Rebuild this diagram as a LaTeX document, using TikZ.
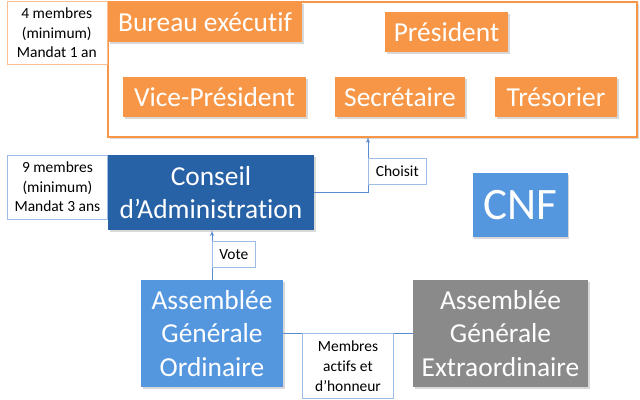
\documentclass[tikz,border=0pt]{standalone}
\usepackage{fontspec}
\setmainfont{Carlito}[Ligatures={NoCommon}]
\usetikzlibrary{arrows, positioning, shadows, calc}

\definecolor{orangebox}{HTML}{F79646}
\definecolor{orangeline}{HTML}{F9BF93}
\definecolor{darkblue}{HTML}{2862A6}
\definecolor{midblue}{HTML}{5597DF}
\definecolor{greybox}{HTML}{8A8A8A}
\definecolor{linkblue}{HTML}{5B8BD0}
\definecolor{tagblue}{HTML}{9DBCE6}

\begin{document}
\begin{tikzpicture}[
    x=0.025cm, y=-0.025cm,
    box/.style={rectangle, text=white, align=center, inner sep=0pt,
        font=\fontsize{19.5}{24}\selectfont,
        drop shadow={shadow xshift=1.2pt, shadow yshift=-1.2pt, opacity=0.3}},
    note/.style={rectangle, draw, fill=white, align=center, inner sep=0pt,
        font=\fontsize{11}{14}\selectfont},
    tag/.style={note, draw=tagblue},
    line/.style={draw=linkblue, thin},
    arrow/.style={line, -latex'}
]
\useasboundingbox (0,0) rectangle (640,400);

% bureau executif
\node [rectangle, draw=orangebox, line width=1.3pt, fill=white, minimum width=529*0.025cm, minimum height=135*0.025cm,
    drop shadow={shadow xshift=1.2pt, shadow yshift=-1.2pt, opacity=0.3}] (frame) at (372.5,69.5) {};
\node [box, fill=orangebox, minimum width=194*0.025cm, minimum height=40*0.025cm] (bureau) at (205,22) {Bureau exécutif};
\node [note, draw=orangeline, anchor=north east, minimum width=100*0.025cm, minimum height=63*0.025cm] (notebur) at (frame.north west) {4 membres\\(minimum)\\Mandat 1 an};
\node [box, fill=orangebox, minimum width=123*0.025cm, minimum height=40*0.025cm] (pres) at (446.5,32) {Président};
\node [box, fill=orangebox, minimum width=183*0.025cm, minimum height=40*0.025cm] (vice) at (214.5,97) {Vice-Président};
\node [box, fill=orangebox, minimum width=130*0.025cm, minimum height=40*0.025cm] (secr) at (400,97) {Secrétaire};
\node [box, fill=orangebox, minimum width=122*0.025cm, minimum height=40*0.025cm] (treso) at (556,97) {Trésorier};

% conseil
\node [box, fill=darkblue, minimum width=206*0.025cm, minimum height=75*0.025cm] (conseil) at (211,192.5) {Conseil\\d’Administration};
\node [tag, anchor=north east, minimum width=100*0.025cm, minimum height=64*0.025cm] (noteca) at (conseil.north west) {9 membres\\(minimum)\\Mandat 3 ans};
\node [box, fill=midblue, minimum width=95*0.025cm, minimum height=64*0.025cm, font=\fontsize{32}{36}\selectfont] (cnf) at (520,205) {CNF};

% assemblees
\node [box, fill=midblue, minimum width=142*0.025cm, minimum height=107*0.025cm] (ago) at (212,333.5) {Assemblée\\Générale\\Ordinaire};
\node [box, fill=greybox, minimum width=175*0.025cm, minimum height=107*0.025cm] (age) at (500.5,333.5) {Assemblée\\Générale\\Extraordinaire};

% liens
\coordinate (choix) at (368,137);
\path [arrow] (conseil.east) -| (choix);
\node [tag, anchor=north west, minimum width=58*0.025cm, minimum height=26*0.025cm] (choisit) at (368,158) {Choisit};

\path [arrow] (ago.north) -- (ago.north |- conseil.south);
\node [tag, anchor=north west, minimum width=43*0.025cm, minimum height=26*0.025cm] (vote) at (212,241) {Vote};

\path [line] (ago.east) -- (age.west) coordinate[pos=0.5] (milieu);
\node [tag, anchor=north, minimum width=91*0.025cm, minimum height=65*0.025cm] (membres) at (milieu) {Membres\\actifs et\\d’honneur};

\end{tikzpicture}
\end{document}
